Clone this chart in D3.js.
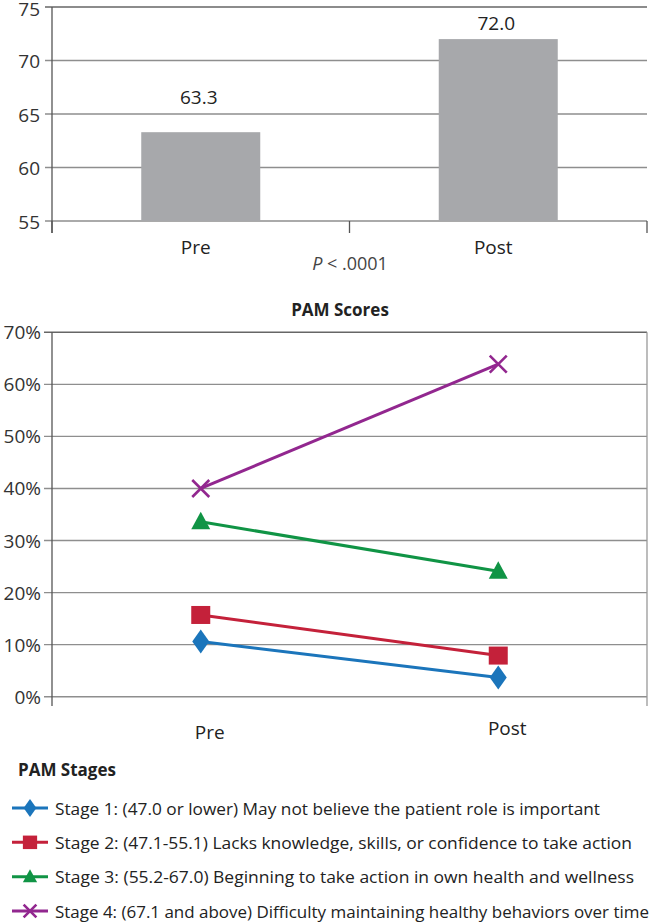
<!DOCTYPE html>
<html><head><meta charset="utf-8">
<script src="https://cdn.jsdelivr.net/npm/d3@7"></script>
<style>
body{margin:0;background:#fff;}
svg{display:block;font-family:"Open Sans","Noto Sans",sans-serif;}
</style></head>
<body><svg id="c" width="652" height="923"></svg>
<script>
// ---- data ----
const barCategories = ["Pre", "Post"];
const barValues = [63.3, 72.0];
const barLabels = ["63.3", "72.0"];
const barTicks = [55, 60, 65, 70, 75];

const lineCategories = ["Pre", "Post"];
const stageNames = [
  "Stage 1: (47.0 or lower) May not believe the patient role is important",
  "Stage 2: (47.1-55.1) Lacks knowledge, skills, or confidence to take action",
  "Stage 3: (55.2-67.0) Beginning to take action in own health and wellness",
  "Stage 4: (67.1 and above) Difficulty maintaining healthy behaviors over time"
];
const stage1 = [0.106, 0.037];
const stage2 = [0.157, 0.079];
const stage3 = [0.336, 0.241];
const stage4 = [0.400, 0.639];
const lineTicks = [0, 0.1, 0.2, 0.3, 0.4, 0.5, 0.6, 0.7];
const stageColors = ["#1b75bb", "#c4213a", "#109445", "#92278f"];
const stageMarkers = ["diamond", "square", "triangle", "x"];

const svg = d3.select("#c");
const textCol = "#333";
const gridCol = "#8e8e8e";

// ---- top bar chart ----
const L = 52, R = 647;
const xb = d3.scaleBand().domain(barCategories).range([L, R]);
const yb = d3.scaleLinear().domain([55, 75]).range([221, 7]);

const gTop = svg.append("g");
gTop.selectAll("line.grid").data(barTicks).join("line")
  .attr("x1", L - 7).attr("x2", R)
  .attr("y1", d => yb(d)).attr("y2", d => yb(d))
  .attr("stroke", d => d === 75 ? "#666" : gridCol).attr("stroke-width", 1.4);
gTop.selectAll("text.tick").data(barTicks).join("text")
  .attr("x", 40).attr("y", d => Math.max(yb(d) + 7.5, 16))
  .attr("text-anchor", "end").attr("font-size", 19).attr("fill", textCol)
  .text(d => d);
gTop.append("line").attr("x1", L).attr("x2", L).attr("y1", yb(75)).attr("y2", 233)
  .attr("stroke", "#555").attr("stroke-width", 1.3);
const bBounds = [L, xb("Post"), R];
gTop.selectAll("line.xt").data(bBounds).join("line")
  .attr("x1", d => d).attr("x2", d => d).attr("y1", yb(55)).attr("y2", 233)
  .attr("stroke", "#555").attr("stroke-width", 1.3);
const bw = xb.bandwidth() * 0.4;
gTop.selectAll("rect").data(barValues).join("rect")
  .attr("x", (d,i) => xb(barCategories[i]) + xb.bandwidth()/2 - bw/2)
  .attr("width", bw)
  .attr("y", d => yb(d)).attr("height", d => yb(55) - yb(d))
  .attr("fill", "#a7a8ab");
const labelGap = [28, 9];
gTop.selectAll("text.val").data(barValues).join("text")
  .attr("x", (d,i) => xb(barCategories[i]) + xb.bandwidth()/2 - 2)
  .attr("y", (d,i) => yb(d) - labelGap[i])
  .attr("text-anchor", "middle").attr("font-size", 19).attr("fill", "#222")
  .text((d,i) => barLabels[i]);
gTop.selectAll("text.cat").data(barCategories).join("text")
  .attr("x", d => xb(d) + xb.bandwidth()/2 - 5)
  .attr("y", 254)
  .attr("text-anchor", "middle").attr("font-size", 19).attr("fill", "#222")
  .text(d => d);
const pt = gTop.append("text").attr("x", 350).attr("y", 270).attr("text-anchor", "middle")
  .attr("font-size", 18).attr("fill", "#444");
pt.append("tspan").attr("font-style", "italic").text("P");
pt.append("tspan").text(" < .0001");

// ---- bottom line chart ----
const xl = d3.scalePoint().domain(lineCategories).range([L, R]).padding(0.5);
const yl = d3.scaleLinear().domain([0, 0.7]).range([696.7, 332.3]);
const gB = svg.append("g");
svg.append("text").attr("x", 340).attr("y", 316).attr("text-anchor", "middle")
  .attr("font-size", 17).attr("font-weight", "bold").attr("fill", "#222").text("PAM Scores");
gB.selectAll("line.grid").data(lineTicks).join("line")
  .attr("x1", L - 8).attr("x2", R)
  .attr("y1", d => yl(d)).attr("y2", d => yl(d))
  .attr("stroke", d => d === 0.7 ? "#666" : gridCol).attr("stroke-width", 1.4);
gB.selectAll("text.tick").data(lineTicks).join("text")
  .attr("x", 41).attr("y", d => yl(d) + 7)
  .attr("text-anchor", "end").attr("font-size", 19).attr("fill", textCol)
  .text(d => d3.format(".0%")(d));
gB.append("line").attr("x1", L).attr("x2", L).attr("y1", yl(0.7)).attr("y2", 706)
  .attr("stroke", "#555").attr("stroke-width", 1.3);
gB.append("line").attr("x1", R).attr("x2", R).attr("y1", yl(0.7)).attr("y2", 706)
  .attr("stroke", "#999").attr("stroke-width", 1.3);
gB.selectAll("text.cat").data(lineCategories).join("text")
  .attr("x", d => xl(d) + 9)
  .attr("y", (d,i) => i === 0 ? 739 : 735)
  .attr("text-anchor", "middle").attr("font-size", 19).attr("fill", "#222")
  .text(d => d);

function marker(g, type, color, x, y, s) {
  if (type === "diamond") {
    g.append("path").attr("d", `M${x},${y - 12*s}L${x + 8.5*s},${y}L${x},${y + 12*s}L${x - 8.5*s},${y}Z`)
      .attr("fill", color);
  } else if (type === "square") {
    g.append("rect").attr("x", x - 9.5*s).attr("y", y - 9*s).attr("width", 19*s).attr("height", 18*s)
      .attr("fill", color);
  } else if (type === "triangle") {
    g.append("path").attr("d", `M${x},${y - 10*s}L${x + 9.5*s},${y + 7.5*s}L${x - 9.5*s},${y + 7.5*s}Z`)
      .attr("fill", color);
  } else {
    const h = 8.5*s;
    g.append("path").attr("d", `M${x - h},${y - h}L${x + h},${y + h}M${x - h},${y + h}L${x + h},${y - h}`)
      .attr("stroke", color).attr("stroke-width", 2.6).attr("fill", "none");
  }
}

const series = [stage1, stage2, stage3, stage4];
const line = d3.line().x((d,i) => xl(lineCategories[i])).y(d => yl(d));
series.forEach((vals, k) => {
  const g = gB.append("g");
  g.append("path").attr("d", line(vals)).attr("fill", "none")
    .attr("stroke", stageColors[k]).attr("stroke-width", 3);
  vals.forEach((v, i) => marker(g, stageMarkers[k], stageColors[k], xl(lineCategories[i]), yl(v), 1));
});

// ---- legend ----
svg.append("text").attr("x", 18).attr("y", 776).attr("font-size", 17).attr("font-weight", "bold")
  .attr("fill", "#222").text("PAM Stages");
const legY = d3.scaleLinear().domain([0, 3]).range([808, 911]);
const legEnds = [600, 632, 634, 649];
stageNames.forEach((name, k) => {
  const y = legY(k);
  const g = svg.append("g");
  g.append("line").attr("x1", 12).attr("x2", 48).attr("y1", y).attr("y2", y)
    .attr("stroke", stageColors[k]).attr("stroke-width", 3);
  marker(g, stageMarkers[k], stageColors[k], 30, y, 0.75);
  g.append("text").attr("x", 55).attr("y", y + 6.5).attr("font-size", 16.5).attr("fill", "#222")
    .attr("textLength", legEnds[k] - 55).attr("lengthAdjust", "spacingAndGlyphs")
    .text(name);
});
</script></body></html>
